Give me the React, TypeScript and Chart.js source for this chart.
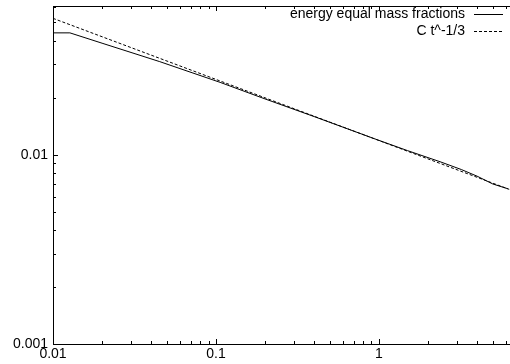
import React, { useEffect, useRef } from "react";
import { Chart, registerables } from "chart.js";

Chart.register(...registerables);

// Data
const solidT = [0.01, 0.0127, 0.02, 0.0452, 0.106, 0.2, 0.4, 1, 1.5, 2.37, 3.2, 4, 5, 6.2];
const solidE = [0.044, 0.044, 0.0388, 0.031, 0.0241, 0.0197, 0.0159, 0.0119, 0.0105, 0.00918, 0.00835, 0.0077, 0.007, 0.0066];
const fitT = [0.01, 6.3];
const fitE = [0.0525, 0.00656];
const xTickLabels = [0.01, 0.1, 1];
const yTickLabels = [0.001, 0.01];
const legendLabels = ["energy equal mass fractions", "C t^-1/3"];

const FAMILY = '"Liberation Sans", Arial, sans-serif';
const FONT = '14px ' + FAMILY;

const framePlugin = {
  id: "frame",
  afterDraw(chart: any) {
    const { ctx, chartArea } = chart;
    const xs = chart.scales.x;
    const ys = chart.scales.y;
    const { left, right, top, bottom } = chartArea;
    ctx.save();
    ctx.strokeStyle = "#000";
    ctx.lineWidth = 1;
    ctx.setLineDash([]);
    // top border
    ctx.beginPath();
    ctx.moveTo(left, top + 0.5);
    ctx.lineTo(right, top + 0.5);
    ctx.stroke();
    // x ticks (bottom + mirrored top)
    for (let d = 0.01; d < 100; d *= 10) {
      for (let k = 1; k <= 9; k++) {
        const v = k * d;
        if (v < xs.min * 0.9999 || v > xs.max) continue;
        const px = Math.round(xs.getPixelForValue(v)) + 0.5;
        const len = k === 1 ? 5 : 3;
        ctx.beginPath();
        ctx.moveTo(px, bottom);
        ctx.lineTo(px, bottom - len);
        ctx.moveTo(px, top);
        ctx.lineTo(px, top + len);
        ctx.stroke();
      }
    }
    // y ticks (left)
    for (let d = 0.001; d < 1; d *= 10) {
      for (let k = 1; k <= 9; k++) {
        const v = k * d;
        if (v < ys.min * 0.9999 || v > ys.max) continue;
        const py = Math.round(ys.getPixelForValue(v)) + 0.5;
        const len = k === 1 ? 5 : 3;
        ctx.beginPath();
        ctx.moveTo(left, py);
        ctx.lineTo(left + len, py);
        ctx.stroke();
      }
    }
    // legend
    ctx.font = FONT;
    ctx.fillStyle = "#000";
    ctx.textAlign = "right";
    ctx.textBaseline = "middle";
    const rows = [14, 31];
    legendLabels.forEach((label, i) => {
      const y = rows[i];
      ctx.fillText(label, 465, y);
      ctx.beginPath();
      ctx.setLineDash(i === 0 ? [] : [3, 2]);
      ctx.moveTo(474, Math.round(y) + 0.5);
      ctx.lineTo(503, Math.round(y) + 0.5);
      ctx.stroke();
    });
    ctx.restore();
  },
};

export default function App() {
  const ref = useRef<HTMLCanvasElement>(null);
  useEffect(() => {
    if (!ref.current) return;
    const chart = new Chart(ref.current, {
      type: "scatter",
      data: {
        datasets: [
          {
            label: legendLabels[0],
            data: solidT.map((t, i) => ({ x: t, y: solidE[i] })),
            showLine: true,
            borderColor: "#000",
            borderWidth: 1,
            pointRadius: 0,
            tension: 0,
          },
          {
            label: legendLabels[1],
            data: fitT.map((t, i) => ({ x: t, y: fitE[i] })),
            showLine: true,
            borderColor: "#000",
            borderWidth: 1,
            borderDash: [3, 2],
            pointRadius: 0,
            tension: 0,
          },
        ],
      },
      options: {
        animation: false,
        responsive: false,
        layout: { padding: { top: 6, left: 0, right: 0, bottom: 0 } },
        plugins: { legend: { display: false }, tooltip: { enabled: false } },
        scales: {
          x: {
            type: "logarithmic",
            min: 0.01,
            max: 6.37,
            grid: { display: false, drawTicks: false },
            border: { display: true, color: "#000", width: 1 },
            ticks: {
              color: "#000",
              font: { family: FAMILY, size: 14 },
              padding: 2,
              maxRotation: 0,
              autoSkip: false,
              callback: (v: any) => String(v),
            },
            afterBuildTicks: (s: any) => {
              s.ticks = xTickLabels.map((v) => ({ value: v }));
            },
            afterFit: (s: any) => {
              s.height = 20;
              s.paddingLeft = 0;
              s.paddingRight = 0;
            },
          },
          y: {
            type: "logarithmic",
            min: 0.001,
            max: 0.061,
            grid: { display: false, drawTicks: false },
            border: { display: true, color: "#000", width: 1 },
            ticks: {
              color: "#000",
              font: { family: FAMILY, size: 14 },
              padding: 5,
              autoSkip: false,
              callback: (v: any) => String(v),
            },
            afterBuildTicks: (s: any) => {
              s.ticks = yTickLabels.map((v) => ({ value: v }));
            },
            afterFit: (s: any) => {
              s.width = 53;
              s.paddingTop = 0;
              s.paddingBottom = 0;
            },
          },
        },
      },
      plugins: [framePlugin],
    });
    return () => chart.destroy();
  }, []);
  return (
    <div style={{ position: "absolute", left: 0, top: 0, width: 510, height: 364, background: "#fff" }}>
      <canvas ref={ref} width={510} height={364} style={{ display: "block" }} />
    </div>
  );
}
